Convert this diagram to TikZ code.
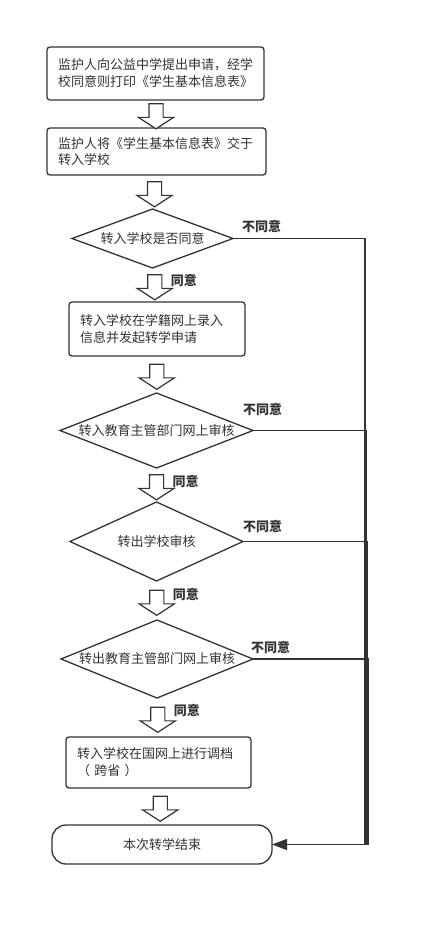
\documentclass[tikz,border=0pt]{standalone}
\usepackage{fontspec}
\setmainfont{Noto Sans CJK SC}
\usetikzlibrary{arrows.meta,positioning,calc,shapes.geometric,shapes.arrows}
\definecolor{ink}{RGB}{51,51,51}

\begin{document}
\begin{tikzpicture}[
  x=1pt, y=-1pt,
  font=\fontsize{13}{17}\selectfont,
  every node/.style={text=ink, outer sep=0pt},
  stepbox/.style={
    draw=ink,
    line width=1.3pt,
    rounded corners=3pt,
    align=left,
    inner xsep=11pt,
    inner ysep=0pt
  },
  decision/.style={diamond, draw=ink, line width=1.3pt, inner sep=0pt},
  endbox/.style={draw=ink, line width=1.3pt, rounded corners=14pt},
  blockarrow/.style={
    single arrow,
    draw=ink,
    line width=1.2pt,
    fill=white,
    rotate=-90,
    minimum height=25pt,
    inner xsep=0pt,
    inner ysep=6.5pt,
    single arrow head extend=10.5pt,
    single arrow tip angle=114
  },
  yeslbl/.style={font=\fontsize{13}{17}\selectfont\bfseries, anchor=west, inner sep=0pt},
  link/.style={draw=ink, line width=1.5pt}
]
\fill[white] (0,0) rectangle (430,926);

\node[stepbox, text width=195pt, minimum height=53pt] (b1) at (155.5,73.5)
  {监护人向公益中学提出申请，经学\\校同意则打印《学生基本信息表》};
\node[stepbox, text width=197pt, minimum height=47pt, below=28pt of b1, xshift=1pt] (b2)
  {监护人将《学生基本信息表》交于\\转入学校};
\node[decision, minimum width=161pt, minimum height=59pt, below=34pt of b2, xshift=-4pt,
  label={center:转入学校是否同意}] (d1) {};
\node[stepbox, text width=154pt, minimum height=54pt, below=34pt of d1, xshift=4.5pt] (b3)
  {转入学校在学籍网上录入\\信息并发起转学申请};
\node[decision, minimum width=193pt, minimum height=75pt, below=37pt of b3, xshift=-0.5pt,
  label={center:转入教育主管部门网上审核}] (d2) {};
\node[decision, minimum width=173pt, minimum height=79pt, below=34pt of d2,
  label={center:转出学校审核}] (d3) {};
\node[decision, minimum width=192pt, minimum height=78pt, below=39pt of d3, xshift=0.5pt,
  label={center:转出教育主管部门网上审核}] (d4) {};
\node[stepbox, text width=163pt, minimum height=51pt, below=39pt of d4, xshift=1.5pt] (b4)
  {转入学校在国网上进行调档\\（ 跨省 ）};
\node[endbox, minimum width=220pt, minimum height=39pt, below=37pt of b4, xshift=3.5pt] (t1)
  {本次转学结束};

% hollow arrows down the main flow
\path (b1.south) -- node[blockarrow] (a1) {} (b2.north);
\path (b2.south) -- node[blockarrow] (a2) {} (d1.north);
\path (d1.south) -- node[blockarrow] (a3) {} (b3.north);
\path (b3.south) -- node[blockarrow] (a4) {} (d2.north);
\path (d2.south) -- node[blockarrow] (a5) {} (d3.north);
\path (d3.south) -- node[blockarrow] (a6) {} (d4.north);
\path (d4.south) -- node[blockarrow] (a7) {} (b4.north);
\path (b4.south) -- node[blockarrow] (a8) {} (t1.north);

\node[yeslbl] (y3) at ($(a3)+(16,-5)$) {同意};
\node[yeslbl] (y5) at ($(a5)+(16,-4)$) {同意};
\node[yeslbl] (y6) at ($(a6)+(16,-6)$) {同意};
\node[yeslbl] (y7) at ($(a7)+(16,-7)$) {同意};

% refusals all run to the end
\coordinate (k) at ($(t1.east)+(93,0)$);
\draw[link, -{Triangle[length=15pt,width=11pt]}] (d1.east) -| (k) -- (t1.east);
\draw[link] (d2.east) -| ($(k)+(1,0)$);
\draw[link] (d3.east) -| ($(k)+(2,0)$);
\draw[link] (d4.east) -| ($(k)+(3,0)$);

\node[yeslbl] (n1) at ($(d1.east)+(9,-12)$) {不同意};
\node[yeslbl] (n2) at ($(d2.east)+(-10,-21)$) {不同意};
\node[yeslbl] (n3) at ($(d3.east)+(0,-15)$) {不同意};
\node[yeslbl] (n4) at ($(d4.east)+(-2,-12)$) {不同意};
\end{tikzpicture}
\end{document}
